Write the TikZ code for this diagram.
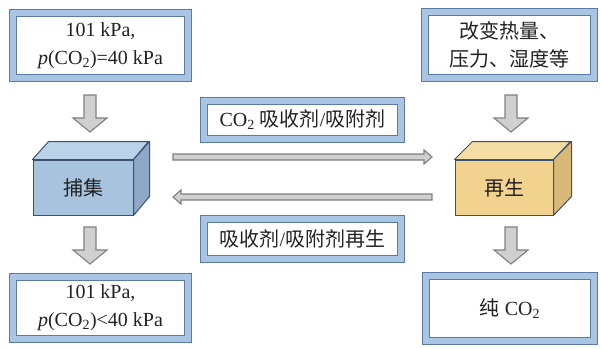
\documentclass[tikz,border=0pt]{standalone}
\usepackage{fontspec}
\setmainfont{Liberation Serif}
\newfontfamily\cjk{Noto Sans CJK SC}
\definecolor{frameD}{HTML}{5A7BA3}
\definecolor{frameL}{HTML}{A9C5E4}
\definecolor{txt}{HTML}{222222}
\definecolor{bfront}{HTML}{A8C3DE}
\definecolor{btop}{HTML}{BCD2E8}
\definecolor{bside}{HTML}{8DA9C7}
\definecolor{yfront}{HTML}{F1D28E}
\definecolor{ytop}{HTML}{F6DDA4}
\definecolor{yside}{HTML}{D9B978}
\definecolor{cedge}{HTML}{3C5270}
\definecolor{arrfill}{HTML}{D0D0D0}
\definecolor{arrline}{HTML}{7F7F7F}
\begin{document}
\begin{tikzpicture}[x=1pt,y=-1pt,
  font=\fontsize{20}{28}\selectfont,
  frame/.style={draw=frameD, double=frameL, double distance=5.5pt, line width=1.1pt,
    fill=white, inner sep=0pt, align=center, text=txt},
  cubefront/.style={draw=cedge, line width=1pt, inner sep=0pt, text=txt},
  cubeedge/.style={draw=cedge, line width=1pt, line join=round},
  blk/.style={draw=arrline, fill=arrfill, line width=1.1pt, line join=miter},
  downarr/.pic={\draw[blk] (-6,0) -- (6,0) -- (6,23) -- (17,23) -- (0,37) -- (-17,23) -- (-6,23) -- cycle;},
  rightarr/.pic={\draw[blk] (0,-3) -- (251,-3) -- (251,-7) -- (259,0) -- (251,7) -- (251,3) -- (0,3) -- cycle;},
  leftarr/.pic={\draw[blk] (0,-3) -- (-251,-3) -- (-251,-7) -- (-259,0) -- (-251,7) -- (-251,3) -- (0,3) -- cycle;}
]
\useasboundingbox (0,0) rectangle (601,348);

% boxes
\node[frame, minimum width=175pt, minimum height=65pt] (tl) at (100.5,45.5)
  {101 kPa,\\\textit{p}(CO\textsubscript{2})=40 kPa};
\node[frame, minimum width=169pt, minimum height=66pt] (tr) at (509.5,45)
  {\cjk 改变热量、\\\cjk 压力、湿度等};
\node[frame, minimum width=175pt, minimum height=62pt] (bl) at (100.5,308)
  {101 kPa,\\\textit{p}(CO\textsubscript{2})<40 kPa};
\node[frame, minimum width=168pt, minimum height=65pt] (br) at (510,308.5)
  {{\cjk 纯} CO\textsubscript{2}};
\node[frame, minimum width=197pt, minimum height=38pt] (mt) at (302.5,120)
  {CO\textsubscript{2} {\cjk 吸收剂}/{\cjk 吸附剂}};
\node[frame, minimum width=197pt, minimum height=40pt] (mb) at (302.5,239)
  {{\cjk 吸收剂}/{\cjk 吸附剂再生}};

% cubes
\node[cubefront, fill=bfront, minimum width=100pt, minimum height=55pt] (cap) at (83,187.5) {\cjk 捕集};
\draw[cubeedge, fill=btop] (cap.north west) -- ++(16,-18) -- ++(100,0) -- (cap.north east) -- cycle;
\draw[cubeedge, fill=bside] (cap.north east) -- ++(16,-18) -- ++(0,55) -- (cap.south east) -- cycle;

\node[cubefront, fill=yfront, minimum width=98pt, minimum height=55pt] (reg) at (504,187.5) {\cjk 再生};
\draw[cubeedge, fill=ytop] (reg.north west) -- ++(18,-18) -- ++(98,0) -- (reg.north east) -- cycle;
\draw[cubeedge, fill=yside] (reg.north east) -- ++(18,-18) -- ++(0,55) -- (reg.south east) -- cycle;

% arrows
\pic at (90,95) {downarr};
\pic at (90,227) {downarr};
\pic at (511,95) {downarr};
\pic at (511,227) {downarr};
\pic at (173,157) {rightarr};
\pic at (432,197) {leftarr};
\end{tikzpicture}
\end{document}
